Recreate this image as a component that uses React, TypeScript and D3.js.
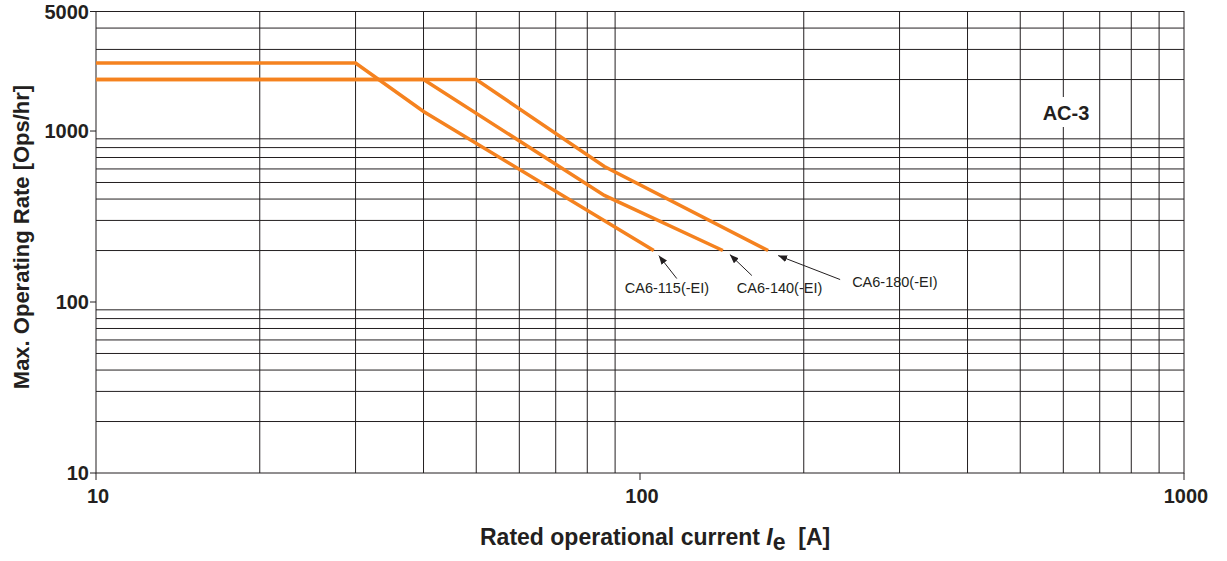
import React from "react";
import * as d3 from "d3";

// ---- data ----
const currents115 = [10, 30, 40, 106];
const rates115 = [2500, 2500, 1300, 200];
const currents140 = [10, 40, 86, 142];
const rates140 = [2000, 2000, 420, 200];
const currents180 = [10, 50, 86, 172];
const rates180 = [2000, 2000, 620, 200];
const seriesNames = ["CA6-115(-EI)", "CA6-140(-EI)", "CA6-180(-EI)"];

const xTickValues = [10, 100, 1000];
const yTickValues = [10, 100, 1000, 5000];
const xGridValues = [20, 30, 40, 50, 60, 70, 80, 90, 200, 300, 400, 500, 600, 700, 800, 900];
const yGridValues = [20, 30, 40, 50, 60, 70, 80, 90, 200, 300, 400, 500, 600, 700, 800, 900, 2000, 3000, 4000];

const W = 1227;
const H = 561;
const FONT = "'Liberation Sans', Arial, Helvetica, sans-serif";
const INK = "#231f20";
const ORANGE = "#f5821f";

// label placement (pixels relative to each series' last point)
const annot = [
  { tail: [23, 28], tip: [5, 5], text: [-29, 42] },
  { tail: [29, 25], tip: [7, 4], text: [14, 42] },
  { tail: [72, 29], tip: [10, 5], text: [84, 36] },
];

export default function App() {
  const x = d3.scaleLog().domain([10, 1000]).range([96, 1184]);
  const y = d3.scaleLog().domain([10, 5000]).range([473, 11.5]);

  const series = [
    currents115.map((c, i) => [c, rates115[i]] as [number, number]),
    currents140.map((c, i) => [c, rates140[i]] as [number, number]),
    currents180.map((c, i) => [c, rates180[i]] as [number, number]),
  ];
  const line = d3
    .line<[number, number]>()
    .x((d) => x(d[0]))
    .y((d) => y(d[1]));

  const x0 = x(10), x1 = x(1000), y0 = y(10), y1 = y(5000);

  return (
    <svg
      width={W}
      height={H}
      style={{ position: "absolute", left: 0, top: 0, background: "#fff" }}
      fontFamily={FONT}
    >
      <defs>
        <marker
          id="ah"
          markerUnits="userSpaceOnUse"
          markerWidth={9}
          markerHeight={7}
          refX={9}
          refY={3.5}
          orient="auto"
        >
          <path d="M0,0 L9,3.5 L0,7 Z" fill={INK} />
        </marker>
      </defs>
      <rect x={0} y={0} width={W} height={H} fill="#fff" />

      {/* grid */}
      <g stroke={INK} strokeWidth={1}>
        {xGridValues.map((v) => (
          <line key={"gx" + v} x1={x(v)} x2={x(v)} y1={y1} y2={y0} />
        ))}
        {yGridValues.map((v) => (
          <line key={"gy" + v} x1={x0} x2={x1} y1={y(v)} y2={y(v)} />
        ))}
        <rect x={x0} y={y1} width={x1 - x0} height={y0 - y1} fill="none" />
        {xTickValues.map((v) => (
          <line key={"tx" + v} x1={x(v)} x2={x(v)} y1={y0} y2={y0 + 7} />
        ))}
        {yTickValues.map((v) => (
          <line key={"ty" + v} x1={x0 - 6} x2={x0} y1={y(v)} y2={y(v)} />
        ))}
      </g>

      {/* AC-3 label with white background */}
      <rect x={1036} y={97} width={58} height={30} fill="#fff" />
      <text x={1066} y={120} textAnchor="middle" fontWeight="bold" fontSize={20} fill={INK}>
        AC-3
      </text>

      {/* series */}
      <g fill="none" stroke={ORANGE} strokeWidth={3.5} strokeLinejoin="miter">
        {series.map((s, i) => (
          <path key={i} d={line(s) || ""} />
        ))}
      </g>

      {/* annotations */}
      {series.map((s, i) => {
        const last = s[s.length - 1];
        const ex = x(last[0]);
        const ey = y(last[1]);
        const a = annot[i];
        return (
          <g key={"an" + i}>
            <line
              x1={ex + a.tail[0]}
              y1={ey + a.tail[1]}
              x2={ex + a.tip[0]}
              y2={ey + a.tip[1]}
              stroke={INK}
              strokeWidth={1}
              markerEnd="url(#ah)"
            />
            <text x={ex + a.text[0]} y={ey + a.text[1]} fontSize={14.5} fill={INK}>
              {seriesNames[i]}
            </text>
          </g>
        );
      })}

      {/* tick labels */}
      {yTickValues.map((v) => (
        <text
          key={"ly" + v}
          x={89}
          y={y(v) + 7}
          textAnchor="end"
          fontWeight="bold"
          fontSize={20}
          fill={INK}
        >
          {v}
        </text>
      ))}
      {xTickValues.map((v) => (
        <text
          key={"lx" + v}
          x={x(v) + 2}
          y={503}
          textAnchor="middle"
          fontWeight="bold"
          fontSize={20}
          fill={INK}
        >
          {v}
        </text>
      ))}

      {/* axis titles */}
      <text
        transform={`translate(29,237) rotate(-90)`}
        textAnchor="middle"
        fontWeight="bold"
        fontSize={22}
        fill={INK}
      >
        Max. Operating Rate [Ops/hr]
      </text>
      <text x={480} y={545} fontWeight="bold" fontSize={23} fill={INK}>
        Rated operational current{" "}
        <tspan fontStyle="italic">I</tspan>
        <tspan dy={5}>e</tspan>
        <tspan dy={-5}>{"\u00a0\u00a0[A]"}</tspan>
      </text>
    </svg>
  );
}
